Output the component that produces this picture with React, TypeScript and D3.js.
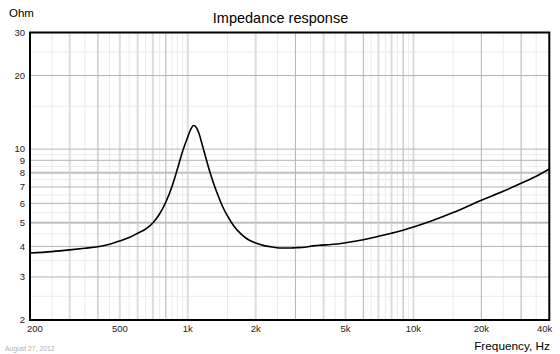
import React from 'react';
import { scaleLog, line, curveMonotoneX } from 'd3';

// impedance curve
const freq = [200, 250, 300, 350, 400, 450, 500, 550, 600, 650, 700, 750, 800, 850, 900, 950, 1000, 1030, 1060, 1090, 1120, 1160, 1200, 1250, 1300, 1360, 1430, 1500, 1600, 1720, 1850, 2000, 2200, 2400, 2600, 2800, 3000, 3300, 3600, 3900, 4300, 5000, 6000, 7000, 8000, 9000, 10000, 12000, 15000, 20000, 25000, 30000, 35000, 40000];
const ohm = [3.76, 3.81, 3.87, 3.93, 3.99, 4.08, 4.21, 4.35, 4.53, 4.71, 4.99, 5.43, 6.08, 7.0, 8.29, 9.83, 11.21, 12.03, 12.5, 12.3, 11.64, 10.4, 9.29, 8.14, 7.27, 6.49, 5.8, 5.33, 4.85, 4.5, 4.27, 4.13, 4.02, 3.97, 3.94, 3.94, 3.95, 3.97, 4.02, 4.05, 4.07, 4.14, 4.26, 4.4, 4.53, 4.66, 4.8, 5.08, 5.5, 6.18, 6.72, 7.25, 7.75, 8.3];

const xTicks = [200, 500, 1000, 2000, 5000, 10000, 20000, 40000];
const xTickLabels = ['200', '500', '1k', '2k', '5k', '10k', '20k', '40k'];
const yTicks = [2, 3, 4, 5, 6, 7, 8, 9, 10, 20, 30];

const xGrayGrid = [400, 800, 3000, 6000, 9000, 20000, 30000];
const xWideGrid = [300, 500, 600, 700, 1000, 2000, 4000, 5000, 7000, 8000, 10000];
const xLightGrid = [250, 350, 450, 550, 650, 750, 850, 900, 950, 1500, 2500, 3500, 4500, 6500, 7500, 8500, 9500, 15000, 25000, 35000];
const yGrayGrid = [3, 4, 5, 6, 7, 8, 9, 10, 20];
const yWideGrid = [5, 8];
const yLightGrid = [2.5, 3.5, 4.5, 5.5, 6.5, 7.5, 8.5, 9.5, 15, 25];

const W = 560;
const H = 354;
const left = 30;
const right = 549.3;
const top = 32.5;
const bottom = 320;
const font = '"Liberation Sans", Arial, sans-serif';

export default function App() {
  const x = scaleLog().domain([200, 40000]).range([left, right]);
  const y = scaleLog().domain([2, 30]).range([bottom, top]);

  const path = line<number>()
    .x((d, i) => x(freq[i]))
    .y((d) => y(d))
    .curve(curveMonotoneX)(ohm);

  return (
    <svg width={W} height={H} style={{ position: 'absolute', left: 0, top: 0, background: '#fff' }} fontFamily={font}>
      <rect width={W} height={H} fill="#fff" />
      {/* grid */}
      {xLightGrid.map((f) => (
        <line key={'xl' + f} x1={x(f)} x2={x(f)} y1={top} y2={bottom} stroke="#ebebeb" strokeWidth={1} />
      ))}
      {yLightGrid.map((v) => (
        <line key={'yl' + v} x1={left} x2={right} y1={y(v)} y2={y(v)} stroke="#ebebeb" strokeWidth={1} />
      ))}
      {xWideGrid.map((f) => (
        <line key={'xw' + f} x1={x(f)} x2={x(f)} y1={top} y2={bottom} stroke="#dcdcdc" strokeWidth={2} />
      ))}
      {yWideGrid.map((v) => (
        <line key={'yw' + v} x1={left} x2={right} y1={y(v)} y2={y(v)} stroke="#dcdcdc" strokeWidth={2.5} />
      ))}
      {xGrayGrid.map((f) => (
        <line key={'xg' + f} x1={x(f)} x2={x(f)} y1={top} y2={bottom} stroke="#b4b4b4" strokeWidth={1} />
      ))}
      {yGrayGrid.map((v) => (
        <line key={'yg' + v} x1={left} x2={right} y1={y(v)} y2={y(v)} stroke="#b4b4b4" strokeWidth={1} />
      ))}

      <path d={path ?? ''} fill="none" stroke="#000" strokeWidth={1.6} />

      <rect x={left} y={top} width={right - left} height={bottom - top} fill="none" stroke="#000" strokeWidth={2} />

      {/* y tick labels */}
      {yTicks.map((v) => (
        <text key={'yt' + v} x={25} y={y(v)} dy="0.35em" textAnchor="end" fontSize={9.5} fill="#222">
          {v}
        </text>
      ))}
      {/* x tick labels */}
      {xTicks.map((f, i) => {
        const anchor = i === 0 ? 'start' : i === xTicks.length - 1 ? 'end' : 'middle';
        const px = i === 0 ? x(f) - 3 : i === xTicks.length - 1 ? x(f) + 3 : x(f);
        return (
          <text key={'xt' + f} x={px} y={332} textAnchor={anchor} fontSize={9.5} fill="#222">
            {xTickLabels[i]}
          </text>
        );
      })}

      <text x={280.5} y={23} textAnchor="middle" fontSize={14.5} fill="#000">
        Impedance response
      </text>
      <text x={9} y={17} fontSize={11.5} fill="#000">
        Ohm
      </text>
      <text x={550} y={350} textAnchor="end" fontSize={11.8} fill="#000">
        Frequency, Hz
      </text>
      <text x={5} y={351} fontSize={6.8} fill="#b0b0b0">
        August 27, 2012
      </text>
    </svg>
  );
}
